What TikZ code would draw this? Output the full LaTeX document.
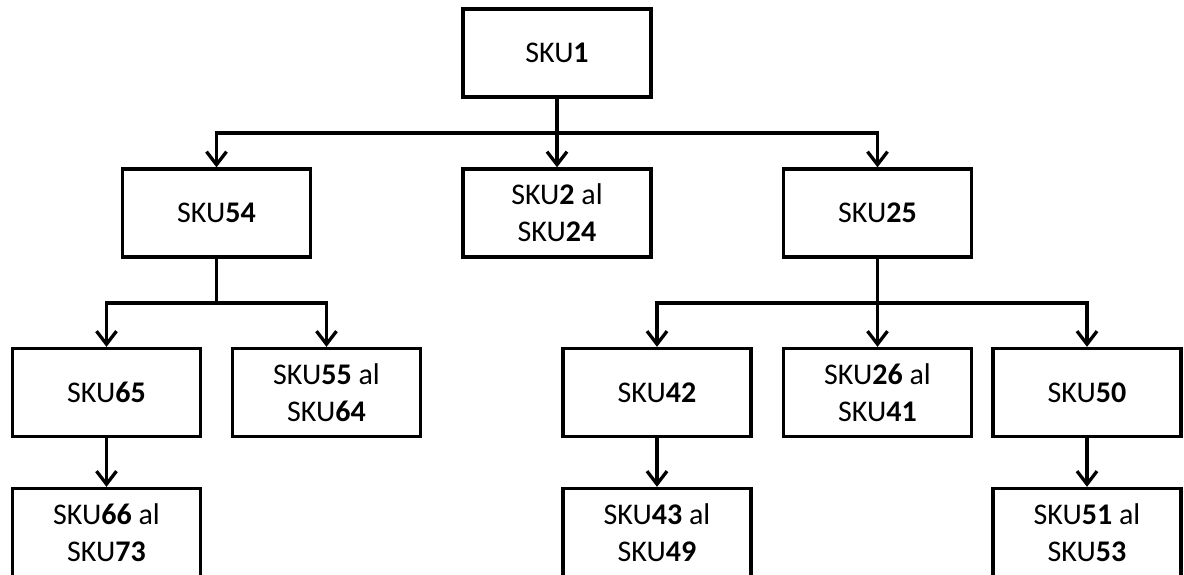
\documentclass[tikz,border=0pt]{standalone}
\usepackage{fontspec}
\setmainfont{Carlito}
\usetikzlibrary{arrows.meta}

\begin{document}
\begin{tikzpicture}[x=1pt,y=-1pt,
  skubox/.style={draw=black, line width=3.3pt, fill=white,
    minimum width=188pt, minimum height=88pt, inner sep=0pt,
    align=center, font=\fontsize{30}{37}\selectfont},
  link/.style={line width=3.3pt, draw=black},
  arr/.style={link, -{Straight Barb[length=13pt,width=20pt,line width=3.3pt]}}
]
\useasboundingbox (0,0) rectangle (1184,574);
\clip (0,0) rectangle (1184,574);

% top level
\node[skubox] (n1) at (557,53) {SKU\textbf{1}};

% second level
\node[skubox] (n54) at (216.5,213) {SKU\textbf{54}};
\node[skubox] (n2)  at (557,213)   {SKU\textbf{2} al\\SKU\textbf{24}};
\node[skubox] (n25) at (877.5,213) {SKU\textbf{25}};

% third level
\node[skubox] (n65) at (106.5,392.5) {SKU\textbf{65}};
\node[skubox] (n55) at (326.5,392.5) {SKU\textbf{55} al\\SKU\textbf{64}};
\node[skubox] (n42) at (657,392.5)   {SKU\textbf{42}};
\node[skubox] (n26) at (877.5,392.5) {SKU\textbf{26} al\\SKU\textbf{41}};
\node[skubox] (n50) at (1087,392.5)  {SKU\textbf{50}};

% fourth level
\node[skubox] (n66) at (106.5,532.5) {SKU\textbf{66} al\\SKU\textbf{73}};
\node[skubox] (n43) at (657,532.5)   {SKU\textbf{43} al\\SKU\textbf{49}};
\node[skubox] (n51) at (1087,532.5)  {SKU\textbf{51} al\\SKU\textbf{53}};

% bus junctions
\coordinate (b1)  at (557,133);
\coordinate (b54) at (216.5,303);
\coordinate (b25) at (877.5,303);

% SKU1 -> second level
\draw[link] (n1.south) -- (b1);
\draw[arr] (b1) -| (n54.north);
\draw[arr] (b1) -- (n2.north);
\draw[arr] (b1) -| (n25.north);

% SKU54 -> third level
\draw[link] (n54.south) -- (b54);
\draw[arr] (b54) -| (n65.north);
\draw[arr] (b54) -| (n55.north);

% SKU25 -> third level
\draw[link] (n25.south) -- (b25);
\draw[arr] (b25) -| (n42.north);
\draw[arr] (b25) -- (n26.north);
\draw[arr] (b25) -| (n50.north);

% third -> fourth level
\draw[arr] (n65.south) -- (n66.north);
\draw[arr] (n42.south) -- (n43.north);
\draw[arr] (n50.south) -- (n51.north);
\end{tikzpicture}
\end{document}
